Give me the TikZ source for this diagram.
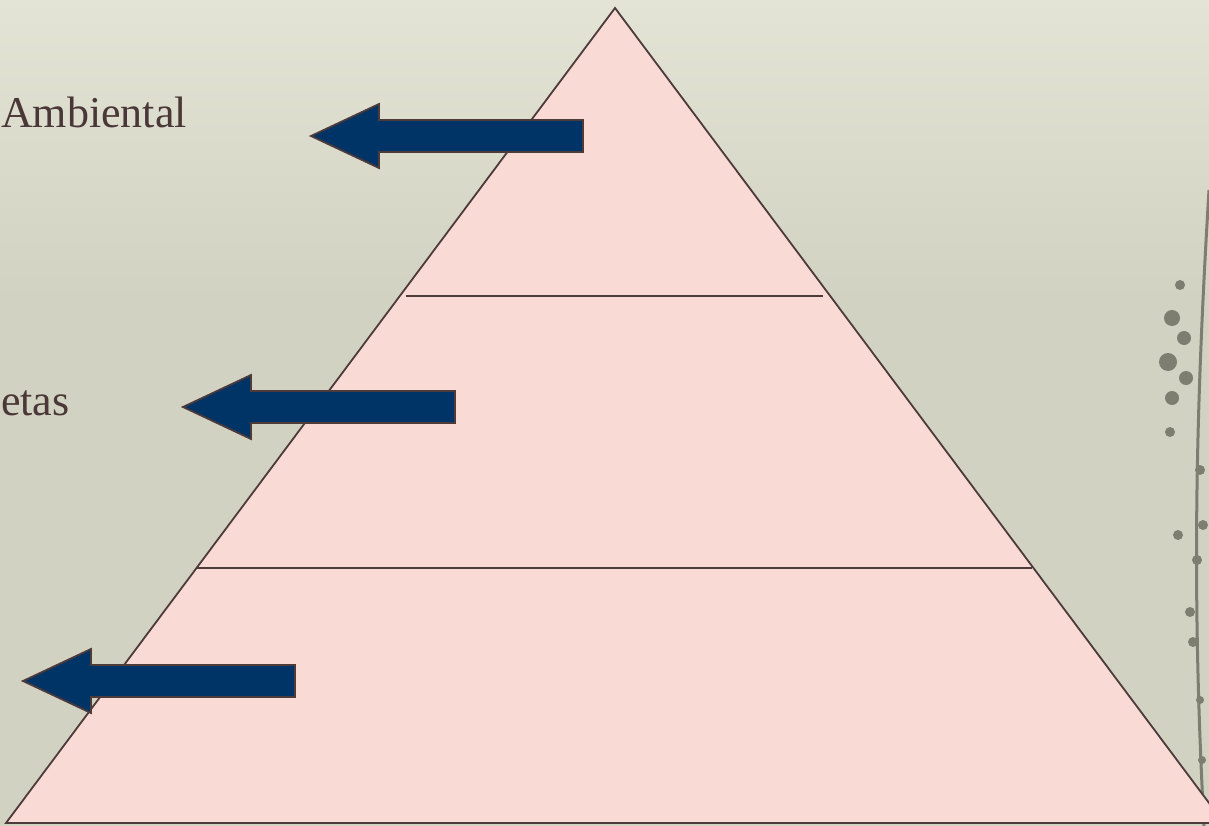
\documentclass[tikz,border=0pt]{standalone}
\usepackage{fontspec}
\setmainfont{Liberation Serif}
\usepackage{xcolor}

\definecolor{bgtone}{RGB}{210,210,194}
\definecolor{bglight}{RGB}{228,228,214}
\definecolor{pyrpink}{RGB}{249,218,212}
\definecolor{arrowblue}{RGB}{0,51,102}
\definecolor{edgebrown}{RGB}{77,59,59}
\definecolor{textbrown}{RGB}{74,56,56}
\definecolor{vinegrey}{RGB}{125,125,112}

\tikzset{
  blockarrow/.style={fill=arrowblue, draw=edgebrown, line width=1.8pt, line join=miter},
  level/.style={draw=edgebrown, line width=1.8pt},
  lefttext/.style={anchor=base west, inner sep=0pt, text=textbrown, font=\fontsize{44}{50}\selectfont}
}

\begin{document}
\begin{tikzpicture}[x=1pt,y=-1pt]
            \useasboundingbox (0,0) rectangle (1209,826);
            \fill[bgtone] (0,0) rectangle (1209,826);
            \shade[top color=bglight, bottom color=bgtone] (0,0) rectangle (1209,300);
            % vine on the right
            \draw[vinegrey, line width=3pt] (1209,190) .. controls (1195,420) and (1192,600) .. (1204,826);
            \foreach \vx/\vy/\vr in {1180/285/5, 1172/318/8, 1184/338/7, 1168/362/9, 1186/378/7, 1172/398/7, 1170/432/5, 1200/470/5, 1178/535/5, 1203/525/5, 1197/560/5, 1190/612/5, 1193/642/5, 1200/700/4, 1202/760/4}
              \fill[vinegrey] (\vx,\vy) circle (\vr);
            % pyramid
            \begin{scope}
              \clip (0,0) rectangle (1209,826);
              \fill[pyrpink] (615,8) -- (1224,823) -- (6,823) -- cycle;
              \draw[level] (615,8) -- (1224,823) -- (6,823) -- cycle;
            \end{scope}
            \draw[level] (406,296) -- (823,296);
            \draw[level] (197,568) -- (1032,568);
            % arrows
            \foreach \ax/\ay/\bx in {311/136/583, 183/407/455, 23/681/295}
              \draw[blockarrow] (\ax,\ay) -- ++(68,-32) -- ++(0,16) -- (\bx,\ay-16) -- (\bx,\ay+16) -- (\ax+68,\ay+16) -- ++(0,16) -- cycle;
            \node[lefttext] (ambiental) at (1,128) {Ambiental};
            \node[lefttext] (metas) at (1,415) {etas};
        \end{tikzpicture}
\end{document}
